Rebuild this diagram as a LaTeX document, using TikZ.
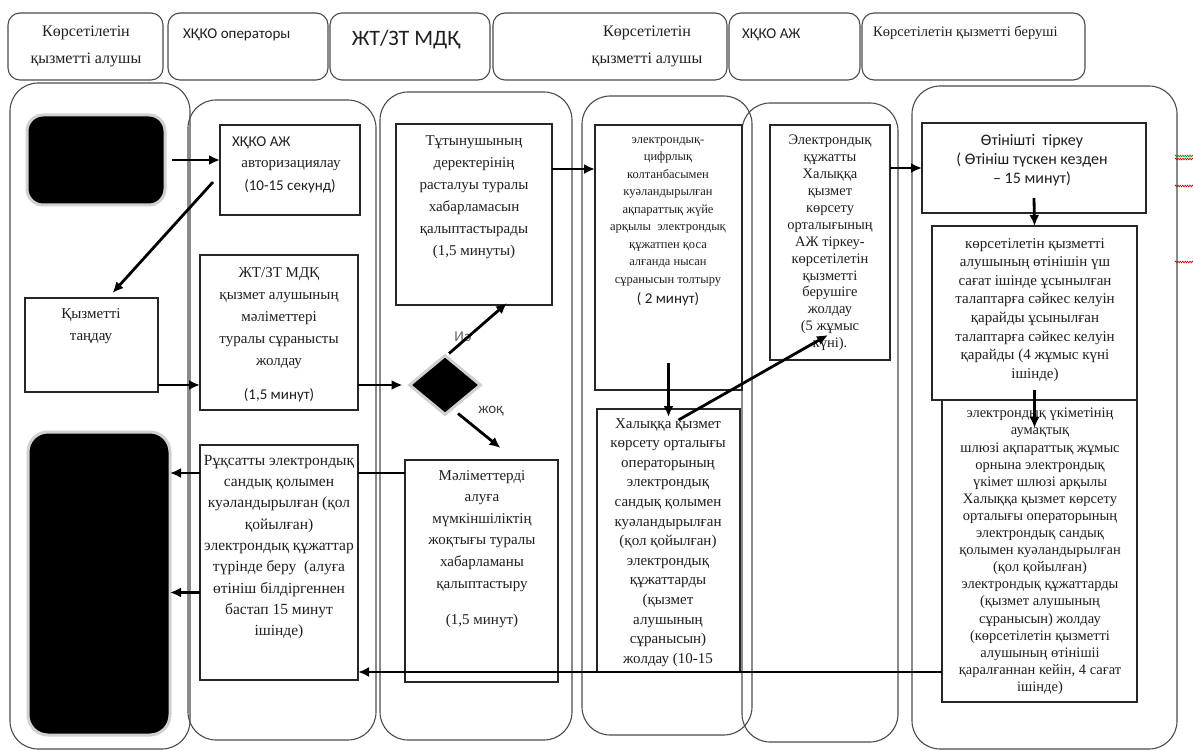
\documentclass[tikz,border=0pt]{standalone}
\usepackage{fontspec}
\setmainfont{Liberation Serif}
\newfontfamily\calfont{Carlito}
\usetikzlibrary{arrows.meta,fit,shapes.geometric,decorations.pathmorphing}
\newcommand\fsz[2]{\fontsize{#1}{#2}\selectfont}
\begin{document}
\begin{tikzpicture}[x=1pt,y=-1pt,
  lane/.style={draw=black!70,line width=1.1pt,rounded corners=28pt,inner sep=0pt,outer sep=0pt},
  hdr/.style={draw=black!70,line width=1.1pt,rounded corners=12pt,inner sep=0pt,outer sep=0pt},
  box/.style={draw=black!85,line width=1.3pt,inner sep=0pt,outer sep=0pt},
  blk/.style={fill=black,draw=black!18,line width=3pt,rounded corners=16pt,inner sep=0pt,outer sep=0pt},
  txt/.style={align=center,inner sep=0pt,text=black!88},
  arr/.style={line width=2.8pt,-{Latex[length=11pt,width=10pt]}},
  ln/.style={line width=2.8pt},
  squig/.style={decorate,decoration={zigzag,segment length=2.4pt,amplitude=0.9pt},line width=0.6pt},
]
\useasboundingbox (0,0) rectangle (1193,751);
\fill[white] (0,0) rectangle (1193,751);

% headers
\node[hdr,fit={(8,13)(163,80)}] (h1) {};
\node[hdr,fit={(168,13)(328,80)}] (h2) {};
\node[hdr,fit={(330,13)(490,80)}] (h3) {};
\node[hdr,fit={(493,13)(727,80)}] (h4) {};
\node[hdr,fit={(729,13)(860,80)}] (h5) {};
\node[hdr,fit={(862,13)(1085,80)}] (h6) {};
\node[txt,font=\fsz{16}{27},anchor=north] (h1t) at (86,26) {Көрсетілетін\\қызметті алушы};
\node[txt,font=\calfont\fsz{15}{18},anchor=west] (h2t) at (183,35) {ХҚКО операторы};
\node[txt,font=\calfont\fsz{22}{26}] (h3t) at (406,40) {ЖТ/ЗТ МДҚ};
\node[txt,font=\fsz{16}{27},anchor=north] (h4t) at (647,26) {Көрсетілетін\\қызметті алушы};
\node[txt,font=\calfont\fsz{15}{18},anchor=west] (h5t) at (742,35) {ХҚКО АЖ};
\node[txt,font=\fsz{14.5}{18},anchor=west] (h6t) at (873,33) {Көрсетілетін қызметті беруші};

% lanes
\node[lane,fit={(10,83)(190,749)}] (L1) {};
\node[lane,fit={(188,100)(376,740)}] (L2) {};
\node[lane,fit={(380,92)(572,740)}] (L3) {};
\node[lane,fit={(582,96)(752,735)}] (L4) {};
\node[lane,fit={(742,103)(898,742)}] (L5) {};
\node[lane,fit={(912,86)(1177,749)}] (L6) {};

% lane 1
\node[blk,fit={(27,115)(165,205)}] (start) {};
\node[box,fit={(25,298)(158,392)}] (choose) {};
\node[txt,font=\fsz{15}{22},anchor=north] (choosetxt) at (91,308) {Қызметті\\таңдау};
\node[blk,rounded corners=20pt,fit={(28,432)(170,735)}] (finish) {};

% lane 2
\node[box,fit={(220,125)(360,215)}] (auth) {};
\node[txt,font=\calfont\fsz{15}{18},anchor=west] (autht1) at (232,143) {ХҚКО АЖ};
\node[txt,font=\fsz{15}{18}] (autht2) at (291,166) {авторизациялау};
\node[txt,font=\calfont\fsz{15}{18}] (autht3) at (290,186) {(10-15 секунд)};

\node[box,fit={(200,255)(358,410)}] (req) {};
\node[txt,font=\fsz{15}{22},anchor=north] (reqt) at (279,267) {ЖТ/ЗТ МДҚ\\қызмет алушының\\мәліметтері\\туралы сұранысты\\жолдау\\[12pt]{\calfont (1,5 минут)}};

\node[box,fit={(200,445)(358,680)}] (permit) {};
\node[txt,font=\fsz{15.5}{21.3},anchor=north] (permitt) at (279,455) {Рұқсатты электрондық\\сандық қолымен\\куәландырылған (қол\\қойылған)\\электрондық құжаттар\\түрінде беру~ (алуға\\өтініш білдіргеннен\\бастап 15 минут\\ішінде)};

% lane 3
\node[box,fit={(396,124)(552,305)}] (confirm) {};
\node[txt,font=\fsz{15}{22},anchor=north] (confirmt) at (474,135) {Тұтынушының\\деректерінің\\расталуы туралы\\хабарламасын\\қалыптастырады\\(1,5 минуты)};

\node[diamond,fill=black,draw=black!18,line width=3pt,minimum width=72pt,minimum height=60pt,inner sep=0pt] (dec) at (445,385) {};
\node[txt,font=\calfont\fsz{15}{18},text=black!60] (yes) at (463,337) {Иә};
\node[txt,font=\calfont\fsz{15}{18},text=black!75] (no) at (491,411) {жоқ};

\node[box,fit={(405,460)(558,682)}] (nodata) {};
\node[txt,font=\fsz{15}{21.6},anchor=north] (nodatat) at (482,470) {Мәліметтерді\\алуға\\мүмкіншіліктің\\жоқтығы туралы\\хабарламаны\\қалыптастыру\\[15pt](1,5 минут)};

% lane 4
\node[box,fit={(595,125)(742,390)}] (form) {};
\node[txt,font=\fsz{12.5}{17.5},anchor=north] (formt) at (668,137) {электрондық-\\цифрлық\\колтанбасымен\\куәландырылған\\ақпараттық жүйе\\арқылы~ электрондық\\құжатпен қоса\\алғанда нысан\\сұранысын толтыру\\[3pt]{\calfont\fsz{15}{18}( 2 минут)}};

\node[box,fit={(597,409)(740,672)}] (sendc) {};
\node[txt,font=\fsz{15}{19.6},anchor=north] (sendct) at (668,418) {Халыққа қызмет\\көрсету орталығы\\операторының\\электрондық\\сандық қолымен\\куәландырылған\\(қол қойылған)\\электрондық\\құжаттарды\\(қызмет\\алушының\\сұранысын)\\жолдау (10-15};

% lane 5
\node[box,fit={(770,125)(890,360)}] (reg) {};
\node[txt,font=\fsz{14.5}{16.9},anchor=north] (regt) at (830,135) {Электрондық\\құжатты\\Халыққа\\қызмет\\көрсету\\орталығының\\АЖ тіркеу-\\көрсетілетін\\қызметті\\берушіге\\жолдау\\(5 жұмыс\\күні).};

% lane 6
\node[box,fit={(922,123)(1146,213)}] (apply) {};
\node[txt,font=\calfont\fsz{16}{19},anchor=north] (applyt) at (1032,134) {Өтінішті~ тіркеу\\( Өтініш түскен кезден\\– 15 минут)};

\node[box,fit={(932,226)(1137,400)}] (check) {};
\node[txt,font=\fsz{15}{18.6},anchor=north] (checkt) at (1035,238) {көрсетілетін қызметті\\алушының өтінішін үш\\сағат ішінде ұсынылған\\талаптарға сәйкес келуін\\қарайды ұсынылған\\талаптарға сәйкес келуін\\қарайды (4 жұмыс күні\\ішінде)};

\node[box,fit={(942,400)(1137,702)}] (send) {};
\node[txt,font=\fsz{14.5}{17.1},anchor=north] (sendt) at (1040,408) {электрондық үкіметінің\\аумақтық\\шлюзі ақпараттық жұмыс\\орнына электрондық\\үкімет шлюзі арқылы\\Халыққа қызмет көрсету\\орталығы операторының\\электрондық сандық\\қолымен куәландырылған\\(қол қойылған)\\электрондық құжаттарды\\(қызмет алушының\\сұранысын) жолдау\\(көрсетілетін қызметті\\алушының өтінішіі\\қаралғаннан кейін, 4 сағат\\ішінде)};

% helper coordinates
\coordinate (c1) at ([yshift=45.5pt]confirm.east);
\coordinate (r1) at ([yshift=74.5pt]reg.east);
\coordinate (s2) at (check.south |- send.north);
\coordinate (n1) at ([yshift=98pt]nodata.west);
\coordinate (p1) at (permit.west |- n1);
\coordinate (p2) at ([yshift=-30pt]permit.west);
\coordinate (q1) at ([yshift=-121pt]send.west);

% connectors
\draw[arr] ([xshift=7pt]start.east) -- (auth.west |- start.east);
\draw[arr] ([xshift=-7pt,yshift=-12pt]auth.west) -- ([xshift=21pt,yshift=5pt]choose.north);
\draw[arr] ([yshift=7pt]choose.south east) -- (req.west |- dec.west);
\draw[arr] (req.east |- dec.west) -- ([xshift=-5pt]dec.west);
\draw[arr] ([xshift=4pt]dec.north) -- ([xshift=33pt,yshift=2pt]confirm.south);
\draw[arr] ([xshift=13pt,yshift=3pt]dec.south) -- ([xshift=19pt,yshift=12pt]nodata.north);
\draw[arr] (c1) -- (c1 -| form.west);
\draw[arr] ([yshift=27pt]form.south) -- ([yshift=-8pt]sendc.north);
\draw[arr] ([xshift=10pt,yshift=-11pt]sendc.north) -- ([xshift=-2pt,yshift=25pt]reg.south);
\draw[arr] (r1) -- (r1 -| apply.west);
\draw[arr] ([yshift=15pt]apply.south) -- (check.north);
\draw[arr] ([yshift=10pt]check.south) -- ([yshift=-28pt]s2);
\draw[ln] (n1) -- (n1 -| permit.east);
\draw[arr] (p1) -- (p1 -| finish.east);
\draw[arr] (p2) -- (p2 -| finish.east);
\draw[arr] (q1) -- (q1 -| permit.east);

% spelling squiggles
\draw[squig,green!55!black] (1175,156) -- (1193,156);
\draw[squig,red!75!black] (1175,159) -- (1193,159);
\draw[squig,red!75!black] (1175,186) -- (1193,186);
\draw[squig,red!75!black] (1175,262) -- (1193,262);
\end{tikzpicture}
\end{document}
